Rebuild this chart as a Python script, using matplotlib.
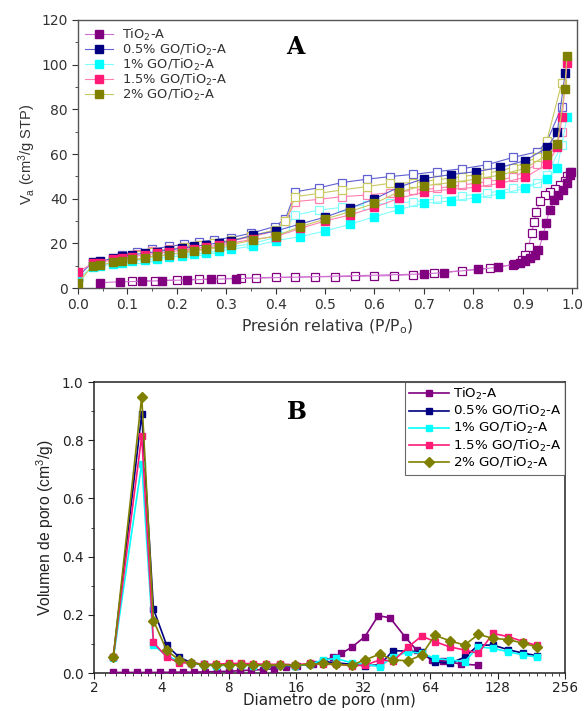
import numpy as np
import matplotlib
matplotlib.use("Agg")
import matplotlib.pyplot as plt
from matplotlib.ticker import MultipleLocator, FixedLocator, NullFormatter

plt.rcParams['font.family'] = ['DejaVu Sans']
plt.rcParams['mathtext.default'] = 'regular'

labels = ["TiO$_2$-A", "0.5% GO/TiO$_2$-A", "1% GO/TiO$_2$-A", "1.5% GO/TiO$_2$-A", "2% GO/TiO$_2$-A"]
colors = ["#800080", "#000080", "#00FFFF", "#FF1A75", "#808000"]

# ---------------- Panel A: isotherms ----------------
ti_ads_p = [0.045, 0.085, 0.13, 0.17, 0.22, 0.27, 0.32, 0.70, 0.74, 0.81, 0.85, 0.883, 0.895, 0.905,
            0.915, 0.925, 0.932, 0.942, 0.947, 0.955, 0.964, 0.972, 0.982, 0.989, 0.996]
ti_ads_v = [2.4, 2.8, 3.0, 3.3, 3.6, 3.9, 4.2, 6.3, 6.9, 8.4, 9.3, 10.6, 11.3, 12.2,
            13.3, 14.8, 17.0, 23.7, 29.2, 34.9, 39.4, 41.6, 43.9, 46.9, 50.6]
ti_des_p = [0.996, 0.99, 0.985, 0.975, 0.965, 0.955, 0.945, 0.935, 0.928, 0.923, 0.918, 0.912, 0.905,
            0.898, 0.88, 0.834, 0.777, 0.72, 0.678, 0.64, 0.60, 0.56, 0.52, 0.48, 0.44, 0.40, 0.36,
            0.33, 0.29, 0.245, 0.20, 0.155, 0.11]
ti_des_v = [52.0, 50.0, 48.0, 46.0, 44.5, 43.0, 41.5, 39.0, 34.0, 29.7, 24.5, 18.5, 14.8,
            12.5, 10.5, 8.8, 7.8, 6.6, 6.0, 5.6, 5.4, 5.2, 5.1, 5.0, 4.9, 4.8, 4.6,
            4.4, 4.2, 3.9, 3.6, 3.3, 3.0]

go_ads_p = [0.0, 0.03, 0.045, 0.07, 0.09, 0.11, 0.135, 0.16, 0.185, 0.21, 0.235, 0.26, 0.285, 0.31,
            0.355, 0.40, 0.45, 0.50, 0.55, 0.60, 0.65, 0.70, 0.755, 0.805, 0.855, 0.905, 0.95, 0.97]
go05_ads_v = [5.0, 11.8, 11.9, 13.3, 14.2, 14.9, 15.6, 16.3, 17.1, 17.8, 18.6, 19.4, 20.2, 21.0,
              23.7, 25.5, 28.7, 31.7, 35.7, 39.9, 45.2, 49.0, 50.8, 52.1, 54.0, 57.0, 63.0, 69.7]
go1_ads_v = [4.3, 9.5, 9.8, 10.8, 11.4, 12.0, 12.6, 13.2, 13.8, 14.5, 15.1, 15.8, 16.6, 17.4,
             18.8, 21.2, 23.0, 25.5, 28.5, 31.9, 35.2, 37.9, 39.0, 40.4, 42.1, 44.6, 48.7, 53.6]
go15_ads_v = [7.3, 11.0, 11.3, 12.8, 13.5, 14.1, 14.8, 15.5, 16.2, 16.9, 17.6, 18.4, 19.2, 20.2,
              21.8, 23.0, 26.7, 30.0, 32.7, 36.1, 40.2, 42.9, 44.2, 45.1, 46.9, 49.6, 55.4, 63.0]
go2_ads_v = [2.3, 10.0, 10.2, 11.5, 12.2, 12.8, 13.5, 14.2, 15.0, 15.7, 16.5, 17.3, 18.2, 19.4,
             21.5, 23.3, 27.5, 30.8, 34.2, 37.9, 43.1, 45.8, 47.2, 48.7, 50.6, 53.6, 59.6, 64.5]
go_top_p = [[0.986], [0.99], [0.98, 0.99], [0.985, 0.99]]
go_top_v = [[96.1], [76.7], [76.4, 100.6], [89.0, 104.0]]

go_des_p = [0.979, 0.949, 0.93, 0.881, 0.828, 0.777, 0.726, 0.679, 0.632, 0.584, 0.534, 0.488, 0.44,
            0.42, 0.398, 0.35, 0.31, 0.275, 0.245, 0.215, 0.185, 0.15, 0.12, 0.09]
go05_des_v = [81.0, 65.5, 61.0, 58.5, 55.2, 53.4, 52.1, 50.9, 49.9, 48.7, 47.2, 44.9, 43.1,
              31.0, 27.5, 24.5, 22.6, 21.6, 20.6, 19.6, 18.6, 17.5, 16.2, 14.8]
go1_des_v = [64.0, 50.6, 47.0, 44.6, 42.4, 41.3, 39.9, 38.6, 37.9, 37.2, 36.1, 34.9, 32.7,
             27.0, 22.5, 19.8, 18.4, 17.4, 16.6, 15.8, 15.0, 14.0, 13.0, 12.0]
go15_des_v = [70.0, 57.0, 55.5, 49.5, 47.6, 46.1, 44.6, 43.8, 42.7, 41.6, 40.9, 39.7, 38.7,
              30.0, 25.5, 22.8, 21.2, 20.2, 19.2, 18.3, 17.4, 16.4, 15.4, 14.2]
go2_des_v = [91.7, 66.0, 58.5, 53.9, 51.3, 49.9, 48.4, 47.2, 46.9, 45.4, 43.9, 42.4, 40.9,
             30.0, 26.0, 23.3, 21.4, 20.2, 19.2, 18.2, 17.2, 16.2, 15.0, 13.8]

# ---------------- Panel B: pore size distributions ----------------
ti_d = [2.44, 2.75, 3.1, 3.5, 3.95, 4.45, 5.0, 5.6, 6.3, 7.1, 8.0, 9.0, 10.1, 11.4, 12.8, 14.4, 16.2,
        19.1, 21.3, 23.5, 25.6, 28.4, 32.6, 37.4, 42.2, 49.2, 55.5, 64.8, 73, 88, 105]
ti_pv = [0.002, 0.002, 0.002, 0.002, 0.002, 0.003, 0.003, 0.003, 0.004, 0.005, 0.006, 0.008, 0.010,
         0.012, 0.015, 0.020, 0.025, 0.031, 0.041, 0.054, 0.068, 0.088, 0.125, 0.197, 0.190, 0.125,
         0.079, 0.045, 0.041, 0.031, 0.027]
go_d = [2.44, 3.27, 3.69, 4.23, 4.8, 5.45, 6.2, 7.0, 8.0, 9.1, 10.3, 11.8, 13.6, 15.9, 18.5, 21.2,
        24.3, 28.4, 32.6, 38, 43.6, 51, 58.5, 67, 78, 91, 105, 122, 143, 167, 191]
go05_pv = [0.055, 0.89, 0.22, 0.095, 0.055, 0.035, 0.030, 0.028, 0.030, 0.030, 0.028, 0.028, 0.027,
           0.025, 0.030, 0.040, 0.035, 0.030, 0.025, 0.028, 0.077, 0.075, 0.073, 0.039, 0.033, 0.054,
           0.096, 0.096, 0.080, 0.068, 0.060]
go1_pv = [0.050, 0.72, 0.095, 0.060, 0.040, 0.033, 0.027, 0.025, 0.027, 0.027, 0.025, 0.026, 0.027,
          0.025, 0.030, 0.045, 0.050, 0.035, 0.030, 0.022, 0.056, 0.073, 0.068, 0.050, 0.045, 0.039,
          0.090, 0.085, 0.073, 0.062, 0.055]
go15_pv = [0.055, 0.815, 0.105, 0.055, 0.035, 0.035, 0.030, 0.030, 0.033, 0.033, 0.032, 0.030, 0.030,
           0.028, 0.033, 0.030, 0.030, 0.025, 0.027, 0.045, 0.041, 0.090, 0.127, 0.108, 0.090, 0.079,
           0.068, 0.136, 0.125, 0.108, 0.095]
go2_pv = [0.055, 0.95, 0.18, 0.078, 0.045, 0.035, 0.028, 0.028, 0.028, 0.028, 0.027, 0.027, 0.028,
          0.027, 0.030, 0.033, 0.030, 0.027, 0.045, 0.065, 0.045, 0.042, 0.062, 0.130, 0.111, 0.096,
          0.133, 0.119, 0.115, 0.102, 0.090]
xticks_b = [2, 4, 8, 16, 32, 64, 128, 256]

fig = plt.figure(figsize=(5.85, 7.11), dpi=100)
axA = fig.add_axes([0.1333, 0.5949, 0.853, 0.377])
axB = fig.add_axes([0.1607, 0.0534, 0.805, 0.4093])

ms = 5.3
go_ads_vals = [go05_ads_v, go1_ads_v, go15_ads_v, go2_ads_v]
go_des_vals = [go05_des_v, go1_des_v, go15_des_v, go2_des_v]
line_colors = ["#D070D0", "#6060D0", "#80FFFF", "#FF80B0", "#C8C860"]

# TiO2
axA.plot(ti_des_p, ti_des_v, '-', color=line_colors[0], lw=0.8, marker='s', ms=ms,
         mfc='white', mec=colors[0], mew=0.9, zorder=2)
axA.plot(ti_ads_p + [0.998], ti_ads_v + [52.0], '-', color=line_colors[0], lw=0.8, marker='s', ms=ms,
         mfc=colors[0], mec=colors[0], zorder=3, label=labels[0])

for i in range(4):
    c = colors[i + 1]
    lc = line_colors[i + 1]
    ap = go_ads_p + go_top_p[i]
    av = go_ads_vals[i] + go_top_v[i]
    axA.plot(go_des_p, go_des_vals[i], '-', color=lc, lw=0.8, marker='s', ms=ms,
             mfc='white', mec=lc, mew=0.9, zorder=2)
    axA.plot(ap, av, '-', color=lc, lw=0.8, marker='s', ms=ms,
             mfc=c, mec=c, zorder=3, label=labels[i + 1])

axA.set_xlim(0, 1.01)
axA.set_ylim(0, 120)
axA.xaxis.set_major_locator(MultipleLocator(0.1))
axA.xaxis.set_minor_locator(MultipleLocator(0.05))
axA.yaxis.set_major_locator(MultipleLocator(20))
axA.yaxis.set_minor_locator(MultipleLocator(10))
axA.xaxis.set_major_formatter(matplotlib.ticker.FormatStrFormatter('%.1f'))
axA.tick_params(which='both', direction='out', top=False, right=False, labelsize=10, colors='#333333')
axA.tick_params(which='major', length=4)
axA.tick_params(which='minor', length=2.5)
for s in axA.spines.values():
    s.set_color('#555555')
    s.set_linewidth(1.0)
axA.set_xlabel("Presión relativa (P/P$_o$)", fontsize=11.3, color='#333333', labelpad=3)
axA.set_ylabel("V$_a$ (cm$^3$/g STP)", fontsize=10.5, color='#333333', labelpad=2,
               family='Liberation Sans')
legA = axA.legend(loc='upper left', frameon=False, fontsize=9.4, handlelength=2.2,
                  handletextpad=0.7, labelspacing=-0.08, borderaxespad=0.1)
for t in legA.get_texts():
    t.set_color('#333333')
axA.text(0.435, 0.90, "A", transform=axA.transAxes, fontsize=17, fontweight='bold',
         family='DejaVu Serif', ha='center', va='center')

# Panel B drawing
msb = 5
axB.plot(ti_d, ti_pv, '-', color=colors[0], lw=1.2, marker='s', ms=msb, label=labels[0], zorder=3)
b_vals = [go05_pv, go1_pv, go15_pv, go2_pv]
markers_b = ['s', 's', 's', 'D']
for i in range(4):
    axB.plot(go_d, b_vals[i], '-', color=colors[i + 1], lw=1.2, marker=markers_b[i],
             ms=msb, label=labels[i + 1], zorder=3 + i)

axB.set_xscale('log', base=2)
axB.set_xlim(2, 256)
axB.set_ylim(0, 1.0)
axB.xaxis.set_major_locator(FixedLocator(xticks_b))
axB.set_xticklabels([str(t) for t in xticks_b])
minor = []
for k in range(7):
    base = 2 * 2 ** k
    minor += [base * (1 + j / 8) for j in range(1, 8)]
axB.xaxis.set_minor_locator(FixedLocator(minor))
axB.xaxis.set_minor_formatter(NullFormatter())
axB.yaxis.set_major_locator(MultipleLocator(0.2))
axB.yaxis.set_minor_locator(MultipleLocator(0.1))
axB.yaxis.set_major_formatter(matplotlib.ticker.FormatStrFormatter('%.1f'))
axB.tick_params(which='both', direction='out', top=False, right=False, labelsize=9.8, colors='#222222')
axB.tick_params(which='major', length=4)
axB.tick_params(which='minor', length=2)
axB.tick_params(axis='x', which='major', pad=1.5)
for s in axB.spines.values():
    s.set_color('#222222')
    s.set_linewidth(1.1)
axB.set_xlabel("Diametro de poro (nm)", fontsize=10.8, color='#222222', labelpad=-1)
axB.set_ylabel("Volumen de poro (cm$^3$/g)", fontsize=11.3, color='#222222', labelpad=4,
               family='Liberation Sans')
legB = axB.legend(loc='upper right', frameon=True, fontsize=9.6, handlelength=3.0,
                  handletextpad=0.25, labelspacing=0.08, borderaxespad=0.0, borderpad=0.3,
                  fancybox=False)
legB.get_frame().set_edgecolor('#444444')
legB.get_frame().set_linewidth(0.8)
axB.text(0.43, 0.897, "B", transform=axB.transAxes, fontsize=17, fontweight='bold',
         family='DejaVu Serif', ha='center', va='center')

fig.savefig("out.png", dpi=100)
